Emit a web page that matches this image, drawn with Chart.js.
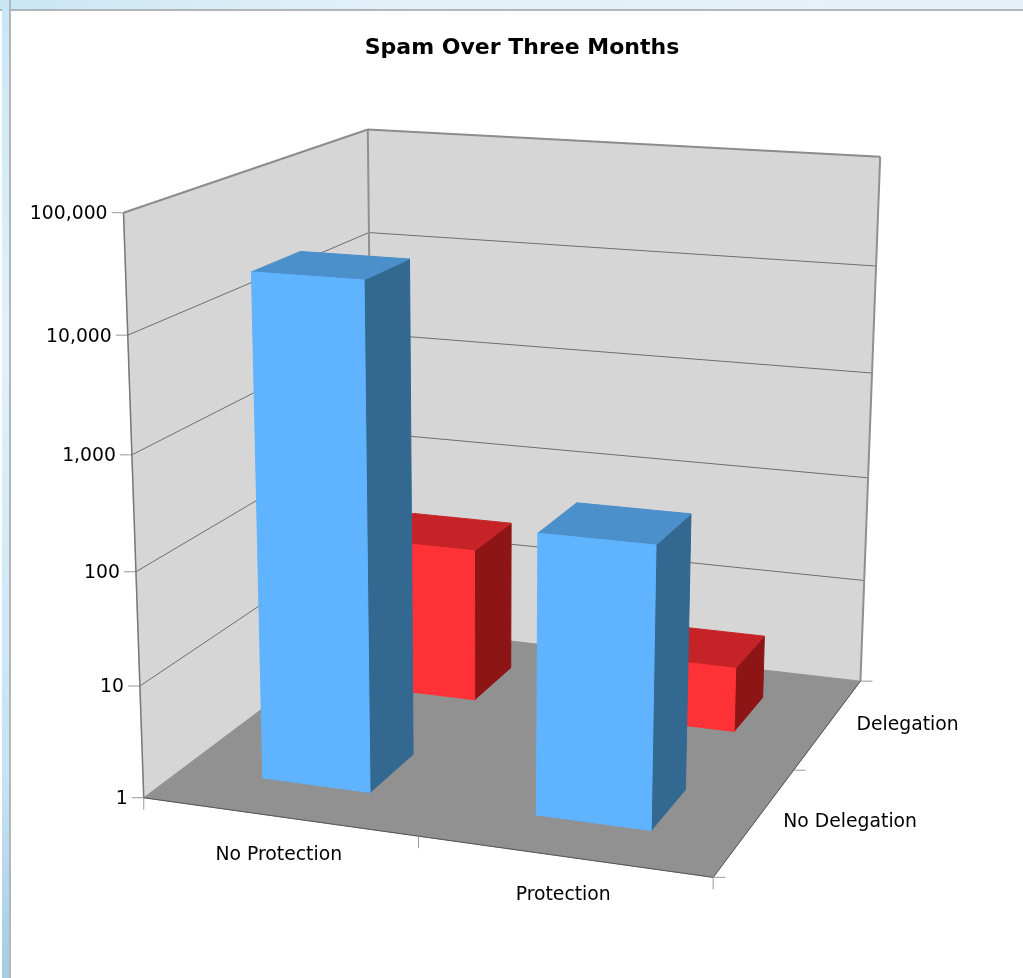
<!DOCTYPE html>
<html>
<head>
<meta charset="utf-8">
<title>Spam Over Three Months</title>
<script src="https://cdn.jsdelivr.net/npm/chart.js@4/dist/chart.umd.min.js"></script>
<style>
  html, body { margin: 0; padding: 0; width: 1023px; height: 978px; overflow: hidden; background: #fff; }
  #top { position: absolute; left: 0; top: 0; width: 1023px; height: 9px; background: linear-gradient(90deg, #c9e6f4, #e4f1f8 40%, #e6f0f7); border-bottom: 2px solid #b0b6b9; }
  #side { position: absolute; left: 2px; top: 0; width: 7px; height: 978px; background: linear-gradient(180deg, #c9e6f4, #e2f1f9 35%, #c4e3f4 80%, #a6cce0); border-right: 2px solid #b0b6b9; }
  #chart { position: absolute; left: 0; top: 0; }
</style>
</head>
<body>
<div id="top"></div>
<div id="side"></div>
<canvas id="chart" width="1023" height="978"></canvas>
<script>
const chartTitle = "Spam Over Three Months";
const protectionLabels = ["No Protection", "Protection"];
const depthLabels = ["No Delegation", "Delegation"];
const noDelegationValues = [27000, 280];
const delegationValues = [28, 4];
const yTickValues = [1, 10, 100, 1000, 10000, 100000];

const barColors = {
  blue: { front: "#5FB3FF", side: "#336891", top: "#4B90CB" },
  red: { front: "#FF3237", side: "#8E1515", top: "#C52328" },
};
const depthFraction = 0.195;

// where the box corners sit on screen: [u, v, w, px, py]
const calibration = [
  [0, 0, 0, 145, 798], [1, 0, 0, 713, 878], [1, 0, 1, 861, 680], [0, 0, 1, 371, 626],
  [0, 1, 0, 123, 213], [0, 1, 1, 369, 129], [1, 1, 1, 879, 157],
  [0, 0.8, 1, 370, 233], [1, 0.8, 1, 876, 266], [0, 0.8, 0, 126, 335],
  [0, 0.2, 0, 141, 685], [1, 0.2, 1, 864, 581], [1, 0.6, 1, 873, 373],
];

function solve(A, b) {
  const n = b.length;
  const m = A.map((row, i) => [...row, b[i]]);
  for (let i = 0; i < n; i++) {
    let best = i;
    for (let r = i + 1; r < n; r++) if (Math.abs(m[r][i]) > Math.abs(m[best][i])) best = r;
    [m[i], m[best]] = [m[best], m[i]];
    for (let r = 0; r < n; r++) {
      if (r === i) continue;
      const f = m[r][i] / m[i][i];
      for (let c = i; c <= n; c++) m[r][c] -= f * m[i][c];
    }
  }
  return m.map((row, i) => row[n] / row[i]);
}

function fitCamera(points) {
  const ata = Array.from({ length: 11 }, () => new Array(11).fill(0));
  const atb = new Array(11).fill(0);
  const addRow = (row, rhs) => {
    for (let i = 0; i < 11; i++) {
      atb[i] += row[i] * rhs;
      for (let j = 0; j < 11; j++) ata[i][j] += row[i] * row[j];
    }
  };
  for (const [u, v, w, px, py] of points) {
    addRow([u, v, w, 1, 0, 0, 0, 0, -px * u, -px * v, -px * w], px);
    addRow([0, 0, 0, 0, u, v, w, 1, -py * u, -py * v, -py * w], py);
  }
  return solve(ata, atb);
}

const cam = fitCamera(calibration);

function project(u, v, w) {
  const d = cam[8] * u + cam[9] * v + cam[10] * w + 1;
  return [
    (cam[0] * u + cam[1] * v + cam[2] * w + cam[3]) / d,
    (cam[4] * u + cam[5] * v + cam[6] * w + cam[7]) / d,
  ];
}

function poly(ctx, pts, fill, stroke) {
  ctx.beginPath();
  pts.forEach((p, i) => (i ? ctx.lineTo(p[0], p[1]) : ctx.moveTo(p[0], p[1])));
  ctx.closePath();
  ctx.fillStyle = fill;
  ctx.fill();
  ctx.strokeStyle = stroke || fill;
  ctx.lineWidth = 1;
  ctx.stroke();
}

function line(ctx, a, b, color, width) {
  ctx.beginPath();
  ctx.moveTo(a[0], a[1]);
  ctx.lineTo(b[0], b[1]);
  ctx.strokeStyle = color;
  ctx.lineWidth = width;
  ctx.stroke();
}

function drawBox(ctx) {
  poly(ctx, [project(0, 0, 0), project(0, 1, 0), project(0, 1, 1), project(0, 0, 1)], "#D6D6D6");
  poly(ctx, [project(0, 0, 1), project(0, 1, 1), project(1, 1, 1), project(1, 0, 1)], "#D6D6D6");
  poly(ctx, [project(0, 0, 0), project(1, 0, 0), project(1, 0, 1), project(0, 0, 1)], "#919191");
}

function drawAxes(chart, ctx) {
  const y = chart.scales.y;
  const x = chart.scales.x;
  ctx.font = "18.8px 'DejaVu Sans'";
  ctx.fillStyle = "#000";
  ctx.textBaseline = "middle";

  yTickValues.forEach((value) => {
    const v = (y.bottom - y.getPixelForValue(value)) / (y.bottom - y.top);
    const front = project(0, v, 0);
    if (v > 0 && v < 1) {
      line(ctx, front, project(0, v, 1), "#6e6e6e", 1);
      line(ctx, project(0, v, 1), project(1, v, 1), "#6e6e6e", 1);
    }
    line(ctx, [front[0] - 12, front[1]], front, "#999", 1);
    ctx.textAlign = "right";
    ctx.fillText(value.toLocaleString("en-US"), front[0] - 16, front[1] + 1.5);
  });

  // wall outline
  line(ctx, project(0, 0, 0), project(0, 1, 0), "#777", 1.5);
  line(ctx, project(0, 1, 0), project(0, 1, 1), "#8c8c8c", 2);
  line(ctx, project(0, 1, 1), project(1, 1, 1), "#8c8c8c", 2);
  line(ctx, project(0, 0, 1), project(0, 1, 1), "#909090", 2);
  line(ctx, project(1, 0, 1), project(1, 1, 1), "#909090", 2);
  line(ctx, project(0, 0, 0), project(1, 0, 0), "#555", 1);
  line(ctx, project(1, 0, 0), project(1, 0, 1), "#555", 1);

  // ticks under the floor edges
  [0, 0.5, 1].forEach((u) => {
    const p = project(u, 0, 0);
    line(ctx, p, [p[0], p[1] + 12], "#999", 1);
    const q = project(1, 0, u);
    line(ctx, q, [q[0] + 12, q[1]], "#999", 1);
  });

  ctx.textAlign = "center";
  protectionLabels.forEach((label, i) => {
    const u = (x.getPixelForValue(i) - x.left) / x.width;
    const p = project(u, 0, 0);
    ctx.fillText(label, p[0], p[1] + 39);
  });

  ctx.textAlign = "left";
  depthLabels.forEach((label, i) => {
    const p = project(1, 0, (i + 0.5) / depthLabels.length);
    ctx.fillText(label, p[0] + 28, p[1] + 1);
  });
}

function drawBar(chart, ctx, bar, depthIndex, colors) {
  const x = chart.scales.x;
  const y = chart.scales.y;
  const u0 = (bar.x - bar.width / 2 - x.left) / x.width;
  const u1 = (bar.x + bar.width / 2 - x.left) / x.width;
  const v = (y.bottom - bar.y) / (y.bottom - y.top);
  const mid = (depthIndex + 0.5) / depthLabels.length;
  const w0 = mid - depthFraction / 2;
  const w1 = mid + depthFraction / 2;
  poly(ctx, [project(u1, 0, w0), project(u1, v, w0), project(u1, v, w1), project(u1, 0, w1)], colors.side);
  poly(ctx, [project(u0, v, w0), project(u1, v, w0), project(u1, v, w1), project(u0, v, w1)], colors.top);
  poly(ctx, [project(u0, 0, w0), project(u1, 0, w0), project(u1, v, w0), project(u0, v, w0)], colors.front);
}

const box3d = {
  id: "box3d",
  beforeDatasetsDraw(chart) {
    const ctx = chart.ctx;
    ctx.save();
    drawBox(ctx);
    drawAxes(chart, ctx);
    // back row first so the front bars cover it
    [1, 0].forEach((depthIndex) => {
      const meta = chart.getDatasetMeta(1 - depthIndex);
      const colors = depthIndex === 1 ? barColors.red : barColors.blue;
      meta.data.forEach((bar) => drawBar(chart, ctx, bar, depthIndex, colors));
    });
    ctx.restore();
    return false;
  },
};

new Chart(document.getElementById("chart"), {
  type: "bar",
  data: {
    labels: protectionLabels,
    datasets: [
      { label: depthLabels[1], data: delegationValues, backgroundColor: barColors.red.front, grouped: false, barPercentage: 0.4, categoryPercentage: 1 },
      { label: depthLabels[0], data: noDelegationValues, backgroundColor: barColors.blue.front, grouped: false, barPercentage: 0.4, categoryPercentage: 1 },
    ],
  },
  options: {
    responsive: false,
    animation: false,
    layout: { padding: { left: 21, top: 0 } },
    plugins: {
      legend: { display: false },
      tooltip: { enabled: false },
      title: {
        display: true,
        text: chartTitle,
        color: "#000",
        font: { family: "'DejaVu Sans'", size: 22, weight: "bold" },
        padding: { top: 35, bottom: 10 },
      },
    },
    scales: {
      x: { display: false },
      y: { display: false, type: "logarithmic", min: 1, max: 100000 },
    },
  },
  plugins: [box3d],
});
</script>
</body>
</html>
